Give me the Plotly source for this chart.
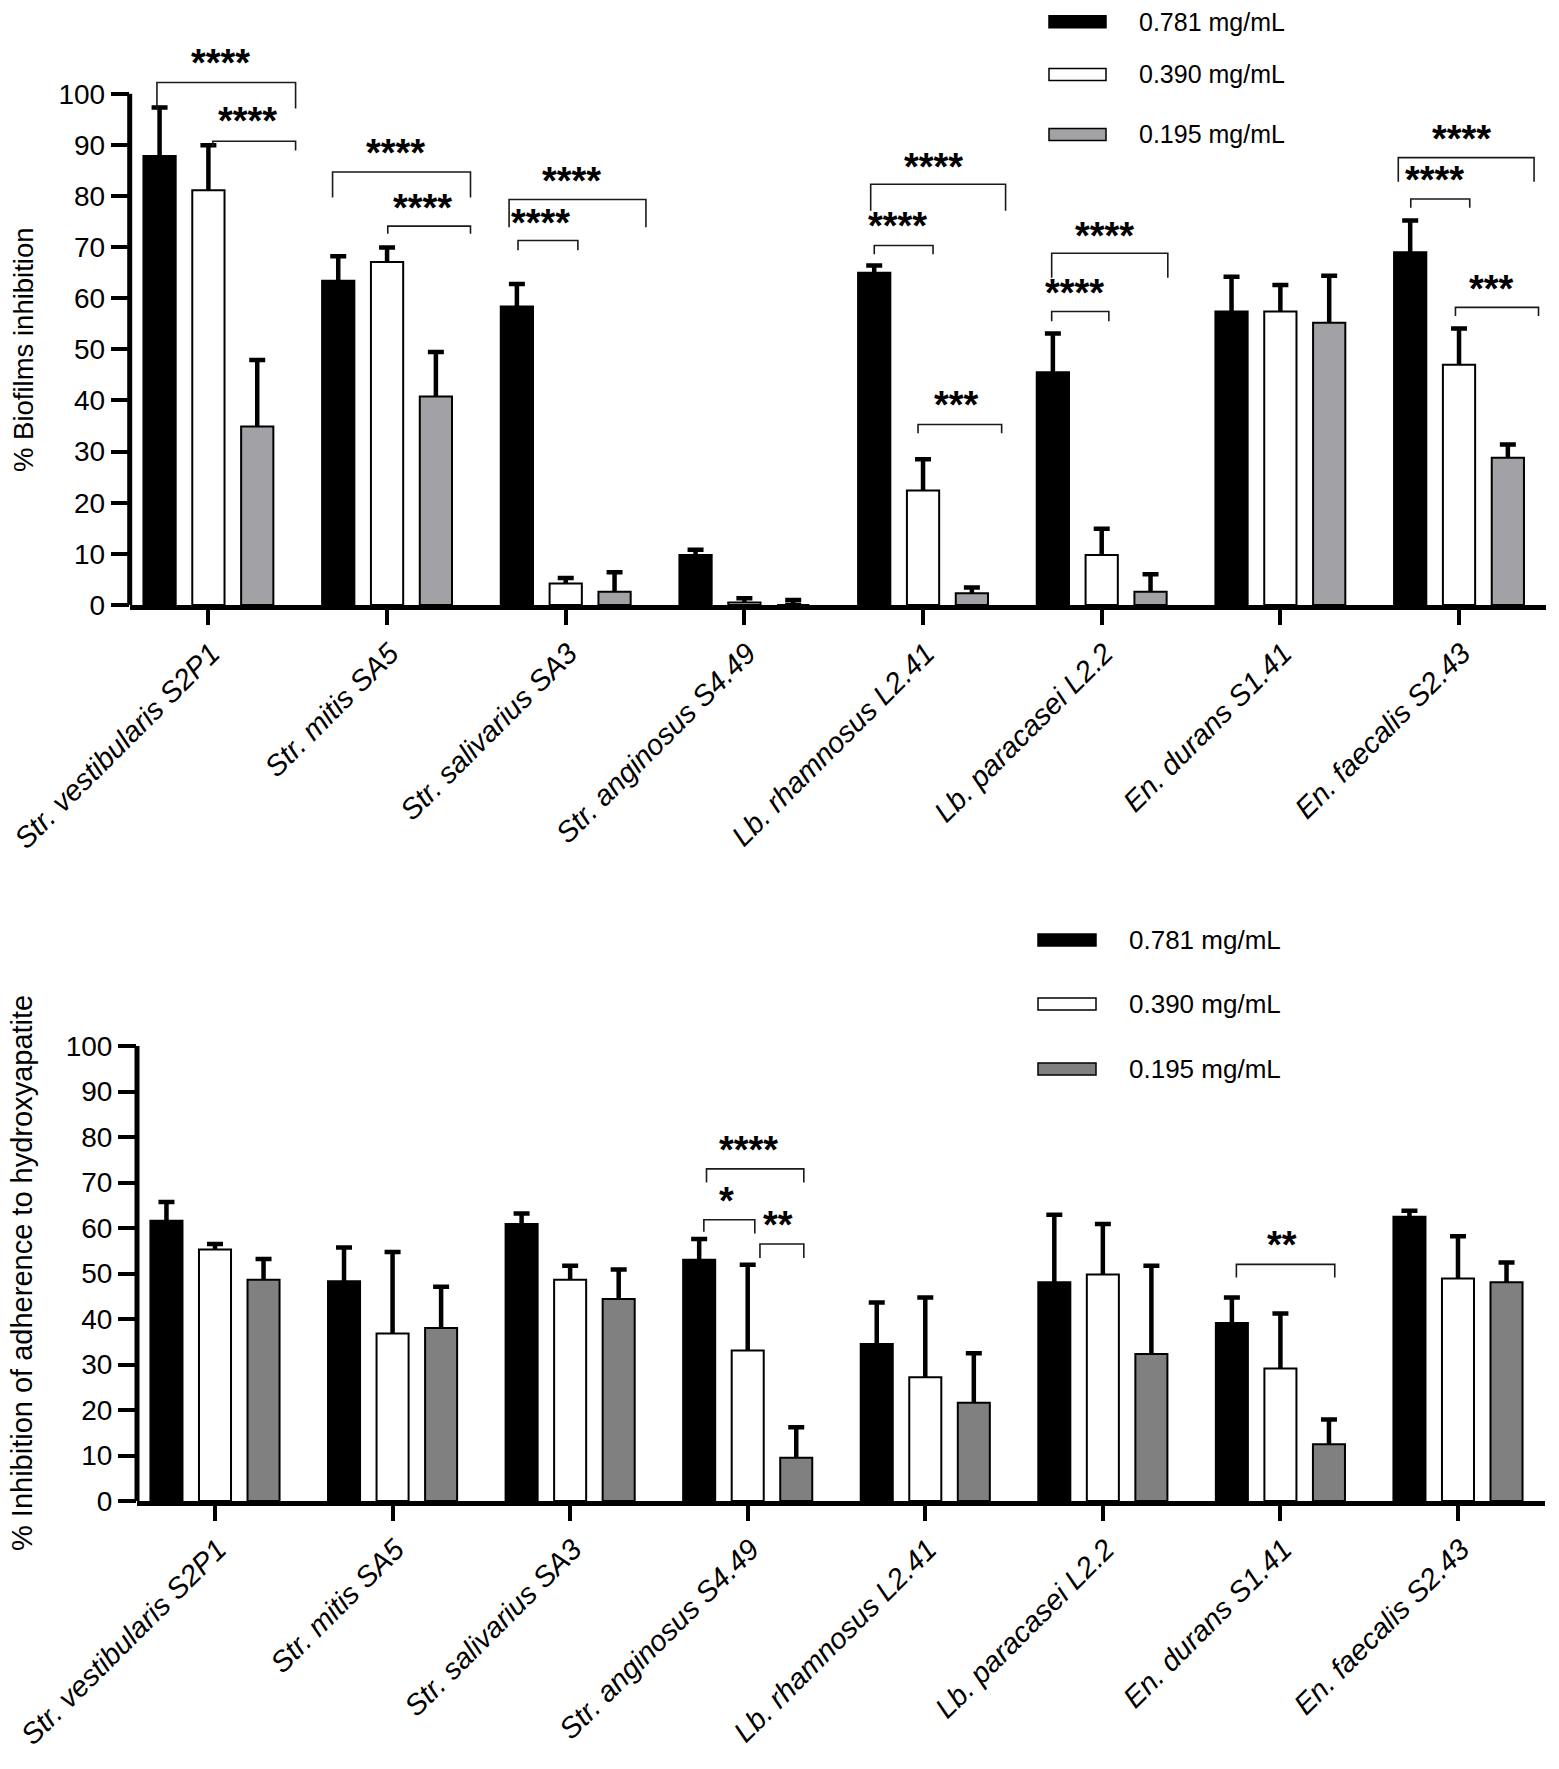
import plotly.graph_objects as go

# ---------------- data ----------------
strains = ["Str. vestibularis S2P1", "Str. mitis SA5", "Str. salivarius SA3",
           "Str. anginosus S4.49", "Lb. rhamnosus L2.41", "Lb. paracasei L2.2",
           "En. durans S1.41", "En. faecalis S2.43"]
concentrations = ["0.781 mg/mL", "0.390 mg/mL", "0.195 mg/mL"]

# top panel: % biofilms inhibition (mean, upper error)
bio_781 = [87.8, 63.4, 58.4, 9.8, 65.0, 45.5, 57.4, 69.0]
bio_781_err = [9.5, 4.8, 4.4, 1.0, 1.4, 7.6, 6.8, 6.2]
bio_390 = [81.1, 67.1, 4.2, 0.5, 22.4, 9.8, 57.4, 47.0]
bio_390_err = [8.8, 2.8, 1.1, 0.8, 6.1, 5.1, 5.2, 7.1]
bio_195 = [34.9, 40.8, 2.6, 0.0, 2.3, 2.6, 55.2, 28.8]
bio_195_err = [13.0, 8.7, 3.8, 1.0, 1.1, 3.4, 9.2, 2.6]

# bottom panel: % inhibition of adherence to hydroxyapatite
hap_781 = [61.6, 48.3, 60.9, 53.0, 34.5, 48.1, 39.1, 62.5]
hap_781_err = [4.1, 7.4, 2.3, 4.6, 9.1, 14.8, 5.6, 1.3]
hap_390 = [55.3, 36.8, 48.6, 33.1, 27.2, 49.8, 29.1, 48.9]
hap_390_err = [1.2, 17.9, 3.1, 18.8, 17.5, 11.1, 12.1, 9.3]
hap_195 = [48.6, 38.0, 44.4, 9.5, 21.6, 32.3, 12.5, 48.1]
hap_195_err = [4.6, 9.1, 6.5, 6.7, 10.9, 19.4, 5.4, 4.3]

# significance brackets: (x0, x1, y_top, y_leg0, y_leg1, label, label_x, label_y)
bio_sig = [
    (-0.288, 0.488, 102.2, 96.8, 97.1, "****", 0.066, 107.5),
    (0.025, 0.488, 90.7, 89.7, 88.9, "****", 0.22, 96.3),
    (0.695, 1.467, 84.7, 79.7, 79.7, "****", 1.05, 90.0),
    (1.004, 1.467, 74.1, 72.6, 72.6, "****", 1.20, 79.3),
    (1.683, 2.449, 79.3, 73.9, 73.9, "****", 2.03, 84.5),
    (1.733, 2.068, 71.3, 69.4, 69.4, "****", 1.86, 76.2),
    (3.707, 4.462, 82.3, 77.1, 77.1, "****", 4.06, 87.2),
    (3.727, 4.056, 70.3, 68.6, 68.6, "****", 3.855, 75.7),
    (3.972, 4.440, 35.3, 33.6, 33.6, "***", 4.187, 40.6),
    (4.720, 5.370, 68.8, 64.0, 64.0, "****", 5.013, 73.7),
    (4.720, 5.040, 57.4, 55.5, 55.5, "****", 4.85, 62.5),
    (6.660, 7.420, 87.5, 82.8, 82.8, "****", 7.015, 92.8),
    (6.730, 7.060, 79.4, 77.7, 77.7, "****", 6.865, 84.7),
    (6.980, 7.445, 58.2, 56.5, 56.5, "***", 7.18, 63.4),
]
hap_sig = [
    (2.768, 3.316, 73.0, 70.0, 70.0, "****", 3.007, 78.9),
    (2.753, 3.040, 61.8, 59.2, 58.8, "*", 2.88, 67.7),
    (3.069, 3.316, 56.5, 53.4, 53.4, "**", 3.17, 62.5),
    (5.752, 6.306, 52.0, 49.1, 49.1, "**", 6.008, 58.0),
]

# ---------------- geometry (pixels of the 1559x1769 page) ----------------
W, H = 1559, 1769
FONT = "Liberation Sans, Arial, sans-serif"
bar_colors_top = ["#000000", "#ffffff", "#a2a2a6"]
bar_colors_bot = ["#000000", "#ffffff", "#808080"]


def fx(p):
    return p / W


def fy(p):
    return 1 - p / H


panels = [
    dict(xa="x", ya="y", series=[(bio_781, bio_781_err), (bio_390, bio_390_err), (bio_195, bio_195_err)],
         colors=bar_colors_top, sig=bio_sig,
         xpx=(129.7, 1546), tick0=208.4, step=178.66, y0px=605, y100px=93.7, ytop=0,
         title="% Biofilms inhibition", title_xy=(24, 350), title_size=27.5,
         legend_y=(21.7, 74.5, 134.4), legend_x=(1049, 1106, 1137), legend_size=25),
    dict(xa="x2", ya="y2", series=[(hap_781, hap_781_err), (hap_390, hap_390_err), (hap_195, hap_195_err)],
         colors=bar_colors_bot, sig=hap_sig,
         xpx=(137, 1545), tick0=215, step=177.57, y0px=1501, y100px=1046, ytop=870,
         title="% Inhibition of adherence to hydroxyapatite", title_xy=(22, 1273), title_size=29,
         legend_y=(940, 1004, 1069), legend_x=(1038, 1096, 1127), legend_size=26),
]

fig = go.Figure()
shapes, annotations = [], []
idx = list(range(len(strains)))

for p in panels:
    # invisible carriers of the error bars, drawn first so the real bars hide the lower part
    for k, (vals, errs) in enumerate(p["series"]):
        fig.add_trace(go.Bar(
            x=idx, y=vals, xaxis=p["xa"], yaxis=p["ya"], offsetgroup=str(k),
            marker=dict(color="rgba(0,0,0,0)", line=dict(width=0)),
            error_y=dict(type="data", symmetric=False, array=errs, arrayminus=vals,
                         color="black", thickness=4.5, width=8),
            showlegend=False, hoverinfo="skip"))
    for k, (vals, errs) in enumerate(p["series"]):
        fig.add_trace(go.Bar(
            x=idx, y=vals, xaxis=p["xa"], yaxis=p["ya"], offsetgroup=str(k),
            name=concentrations[k],
            marker=dict(color=p["colors"][k], line=dict(color="black", width=2)),
            showlegend=False))

    # brackets and stars
    for (x0, x1, yt, l0, l1, lab, lx, ly) in p["sig"]:
        shapes.append(dict(type="path", xref=p["xa"], yref=p["ya"],
                           path=f"M {x0},{l0} L {x0},{yt} L {x1},{yt} L {x1},{l1}",
                           line=dict(color="#1a1a1a", width=1.6)))
        annotations.append(dict(x=lx, y=ly, xref=p["xa"], yref=p["ya"], text=f"<b>{lab}</b>",
                                showarrow=False, xanchor="center", yanchor="middle", yshift=-8,
                                font=dict(family=FONT, size=38, color="black")))

    # y axis line only from 0 to 100
    shapes.append(dict(type="line", xref=f"{p['xa']} domain", yref=p["ya"], x0=0, x1=0, y0=0, y1=100,
                       line=dict(color="black", width=5)))

    # y title
    annotations.append(dict(x=fx(p["title_xy"][0]), y=fy(p["title_xy"][1]), xref="paper", yref="paper",
                            xanchor="center", yanchor="middle",
                            text=p["title"], textangle=-90, showarrow=False,
                            font=dict(family=FONT, size=p["title_size"], color="black")))

    # legend
    lx0, lx1, ltx = p["legend_x"]
    for k, yc in enumerate(p["legend_y"]):
        shapes.append(dict(type="rect", xref="paper", yref="paper",
                           x0=fx(lx0), x1=fx(lx1), y0=fy(yc - 6), y1=fy(yc + 6),
                           fillcolor=p["colors"][k], line=dict(color="black", width=1.5)))
        annotations.append(dict(x=fx(ltx), y=fy(yc), xref="paper", yref="paper",
                                xanchor="left", yanchor="middle",
                                text=concentrations[k], showarrow=False,
                                font=dict(family=FONT, size=p["legend_size"], color="black")))

layout_axes = {}
for n, p in enumerate(panels):
    sfx = "" if n == 0 else "2"
    xl, xr = p["xpx"]
    layout_axes["xaxis" + sfx] = dict(
        domain=[fx(xl), fx(xr)],
        range=[(xl - p["tick0"]) / p["step"], (xr - p["tick0"]) / p["step"]],
        anchor="y" + sfx, tickmode="array", tickvals=idx,
        ticktext=[f"<i>{s}</i>" for s in strains], tickangle=-45,
        ticks="outside", ticklen=15, tickwidth=3.5, tickcolor="black",
        showline=True, linecolor="black", linewidth=4.5, showgrid=False, zeroline=False,
        ticklabeloverflow="allow", ticklabelshift=3,
        tickfont=dict(family=FONT, size=29, color="black"), automargin=False)
    yspan = p["y0px"] - p["y100px"]
    layout_axes["yaxis" + sfx] = dict(
        domain=[fy(p["y0px"]), fy(p["ytop"])],
        range=[0, 100 * (p["y0px"] - p["ytop"]) / yspan],
        anchor="x" + sfx, tickmode="array", tickvals=list(range(0, 101, 10)),
        ticks="outside", ticklen=18, tickwidth=4, tickcolor="black",
        showline=False, showgrid=False, zeroline=False,
        tickfont=dict(family=FONT, size=28, color="black"), automargin=False)

fig.update_layout(
    width=W, height=H,
    margin=dict(l=0, r=0, t=0, b=0),
    paper_bgcolor="white", plot_bgcolor="white",
    barmode="group", bargap=0.18, bargroupgap=0.34,
    showlegend=False,
    shapes=shapes, annotations=annotations,
    **layout_axes,
)

fig.write_html("out.html", config={"displayModeBar": False},
               post_script="document.body.style.margin='0px';")
